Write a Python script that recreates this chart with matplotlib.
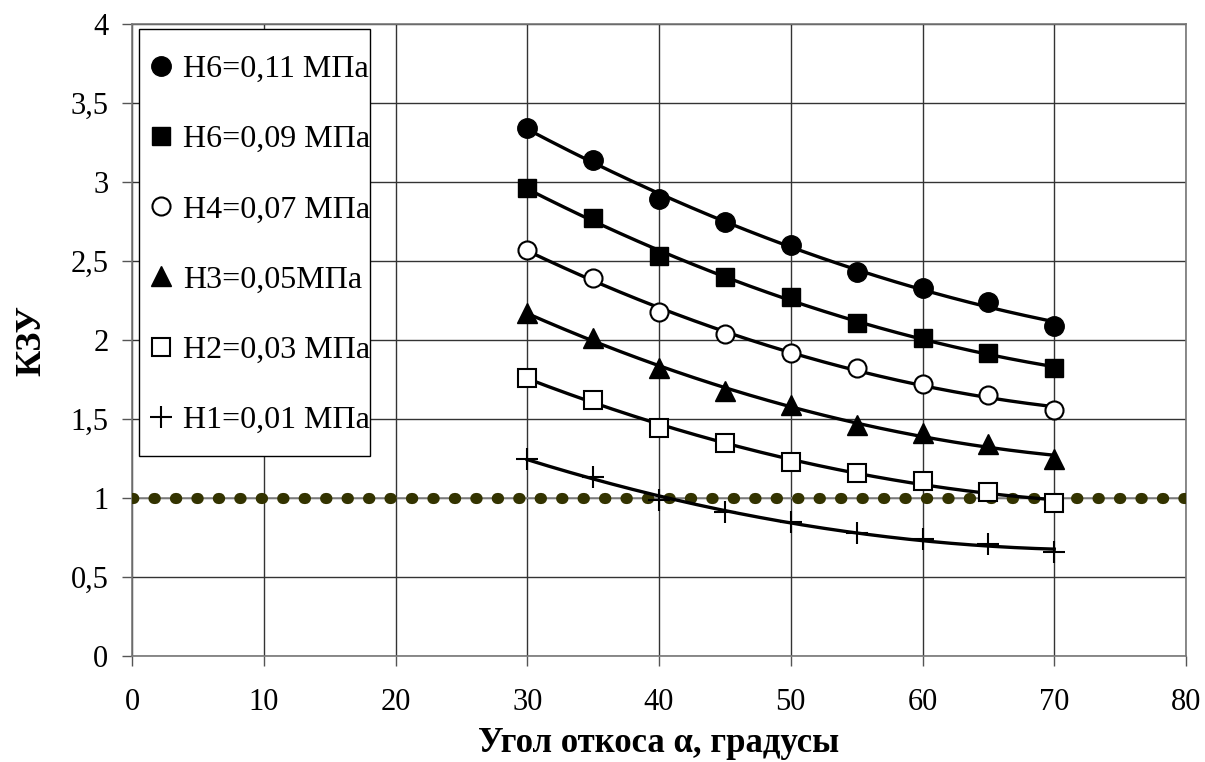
import numpy as np
import matplotlib
matplotlib.use("Agg")
import matplotlib.pyplot as plt
from matplotlib.ticker import FuncFormatter, MultipleLocator
from matplotlib.patches import Rectangle

angles = [30, 35, 40, 45, 50, 55, 60, 65, 70]
h6_011 = [3.34, 3.14, 2.89, 2.75, 2.60, 2.43, 2.33, 2.24, 2.09]
h6_009 = [2.96, 2.77, 2.53, 2.40, 2.27, 2.11, 2.01, 1.92, 1.82]
h4_007 = [2.57, 2.39, 2.18, 2.04, 1.92, 1.82, 1.72, 1.65, 1.56]
h3_005 = [2.17, 2.01, 1.82, 1.68, 1.59, 1.46, 1.41, 1.34, 1.25]
h2_003 = [1.76, 1.62, 1.44, 1.35, 1.23, 1.16, 1.11, 1.04, 0.97]
h1_001 = [1.25, 1.13, 0.99, 0.91, 0.85, 0.78, 0.74, 0.71, 0.66]
labels = ["H6=0,11 МПа", "H6=0,09 МПа", "H4=0,07 МПа", "H3=0,05МПа", "H2=0,03 МПа", "H1=0,01 МПа"]
ref_level = 1.0

plt.rcParams['font.family'] = ['Liberation Serif', 'DejaVu Serif']

W, H = 1205, 762
fig = plt.figure(figsize=(W / 100, H / 100), dpi=100)
L, R, T, B = 132, 1186, 24, 656
ax = fig.add_axes([L / W, 1 - B / H, (R - L) / W, (B - T) / H])

ax.set_xlim(0, 80)
ax.set_ylim(0, 4)
ax.xaxis.set_major_locator(MultipleLocator(10))
ax.yaxis.set_major_locator(MultipleLocator(0.5))
ax.yaxis.set_major_formatter(FuncFormatter(lambda v, p: (f"{v:g}").replace('.', ',')))
ax.grid(True, color='#333333', linewidth=1.0)
ax.set_axisbelow(True)
for s in ax.spines.values():
    s.set_color('#777777')
    s.set_linewidth(1.2)
ax.tick_params(direction='out', length=7, width=1, color='#555555', labelsize=22)
ax.tick_params(axis='x', pad=16)
ax.tick_params(axis='y', pad=10)

# reference line (row of dots)
ax.axhline(ref_level, color='#888888', linewidth=1.2, zorder=2)
ax.axhline(ref_level, color='#333300', linewidth=8.0, linestyle=(0, (0.12, 1.811)),
           dash_capstyle='round', zorder=3)

series = [h6_011, h6_009, h4_007, h3_005, h2_003, h1_001]
styles = [
    dict(marker='o', ms=14, mfc='black', mec='black'),
    dict(marker='s', ms=13, mfc='black', mec='black'),
    dict(marker='o', ms=13, mfc='white', mec='black', mew=1.5),
    dict(marker='^', ms=15, mfc='black', mec='black'),
    dict(marker='s', ms=13, mfc='white', mec='black', mew=1.5),
    dict(marker='+', ms=16, mfc='black', mec='black', mew=1.5),
]
x = np.array(angles, dtype=float)
xs = np.linspace(x.min(), x.max(), 200)
handles = []
for ys, st, lab in zip(series, styles, labels):
    coef = np.polyfit(x, ys, 2)
    ax.plot(xs, np.polyval(coef, xs), color='black', linewidth=2.4, zorder=4)
    h, = ax.plot(x, ys, linestyle='none', label=lab, zorder=5, **st)
    handles.append(h)

# legend frame (drawn separately to get asymmetric padding like the original)
fx0, fx1, fy0, fy1 = 139, 370, 29, 456
frame = Rectangle(((fx0 - L) / (R - L), (B - fy1) / (B - T)),
                  (fx1 - fx0) / (R - L), (fy1 - fy0) / (B - T),
                  transform=ax.transAxes, facecolor='white', edgecolor='black',
                  linewidth=1.0, zorder=19)
ax.add_patch(frame)
leg = ax.legend(handles=handles, loc='upper left',
                bbox_to_anchor=((124 - L) / (R - L), (B - fy0) / (B - T)),
                prop={'size': 23}, frameon=False, labelspacing=1.28,
                handlelength=0.7, handletextpad=0.35, borderpad=0.8,
                borderaxespad=0)
leg.set_zorder(20)

ax.set_xlabel("Угол откоса α, градусы", fontsize=25, fontweight='bold', labelpad=7)
ax.set_ylabel("КЗУ", fontsize=26, fontweight='bold', labelpad=16)

fig.savefig("out.png", dpi=100)
